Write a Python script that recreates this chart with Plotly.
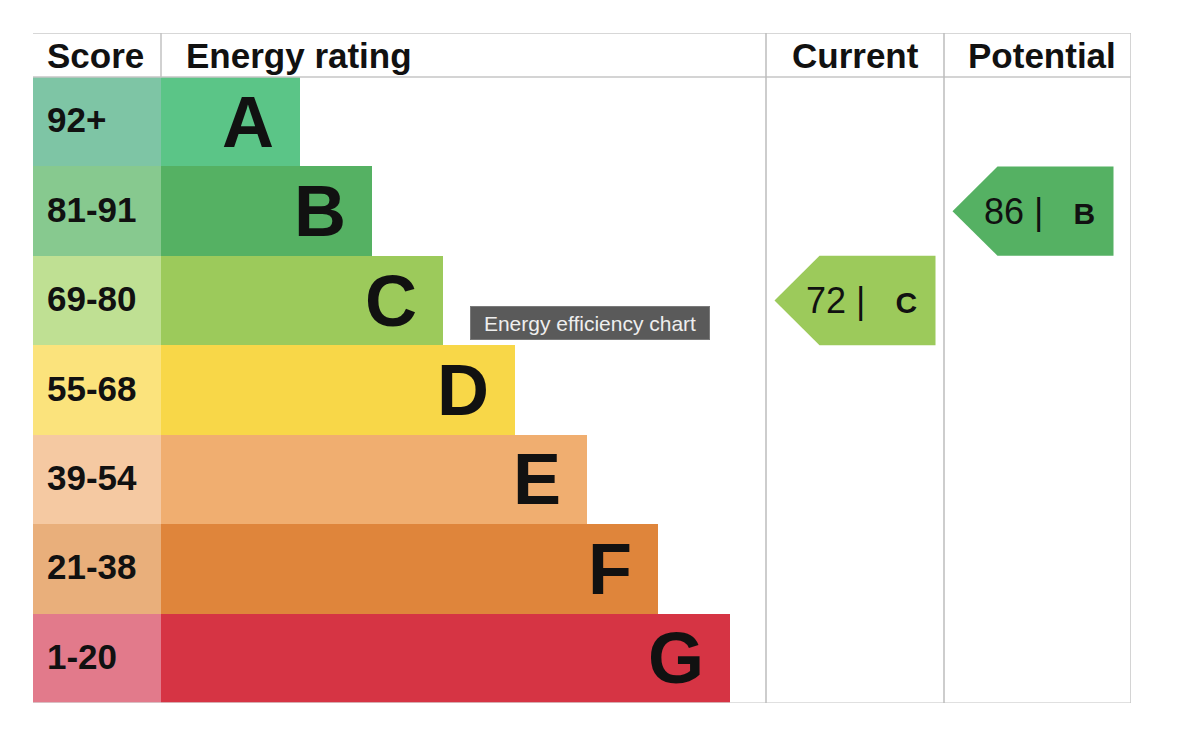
import plotly.graph_objects as go

# energy bands, top (best) to bottom (worst)
bands = ["A", "B", "C", "D", "E", "F", "G"]
score_ranges = ["92+", "81-91", "69-80", "55-68", "39-54", "21-38", "1-20"]
bar_lengths = [139, 211, 282, 354, 426, 497, 569]
bar_colors = ["#5bc587", "#55b163", "#9cca5b", "#f8d748", "#f0ae70", "#df853b", "#d63444"]
score_colors = ["#7ec5a5", "#87c98f", "#bfe093", "#fbe37c", "#f5c9a2", "#e9af7b", "#e27a8b"]

current_score = 72
current_band = "C"
potential_score = 86
potential_band = "B"

FONT = "Liberation Sans, Arial, Helvetica, sans-serif"

# column edges (x axis is in px from the left frame edge)
score_w = 128
cur_left, cur_right = 733, 911
pot_left, pot_right = 911, 1098
header_top = -0.992
rows = list(range(len(bands)))

fig = go.Figure()

# score column cells
fig.add_trace(go.Bar(
    y=rows, x=[score_w] * len(bands), base=0, orientation="h", width=1,
    marker=dict(color=score_colors, line=dict(width=0)), hoverinfo="skip",
))
# rating bars
fig.add_trace(go.Bar(
    y=rows, x=bar_lengths, base=score_w, orientation="h", width=1,
    marker=dict(color=bar_colors, line=dict(width=0)), hoverinfo="skip",
))


def arrow(score, band, left):
    i = bands.index(band)
    tip = left + 8.5
    body = tip + 45
    end = tip + 161
    fig.add_trace(go.Scatter(
        x=[tip, body, end, end, body, tip],
        y=[i, i - 0.5, i - 0.5, i + 0.5, i + 0.5, i],
        fill="toself", fillcolor=bar_colors[i], mode="lines",
        line=dict(width=0, color=bar_colors[i]), hoverinfo="skip",
    ))
    fig.add_annotation(
        x=end - 17, y=i, xanchor="right", yanchor="middle", showarrow=False,
        text=f"{score} |&nbsp;&nbsp;&nbsp;<b><span style='font-size:30px'>{band}</span></b>",
        font=dict(family=FONT, size=36, color="#111"),
    )


arrow(current_score, current_band, cur_left)
arrow(potential_score, potential_band, pot_left)

# row labels
for i, (b, s, L) in enumerate(zip(bands, score_ranges, bar_lengths)):
    fig.add_annotation(x=score_w + L - 24, y=i, xanchor="right", yanchor="middle",
                       text=b, showarrow=False,
                       font=dict(family=FONT, size=72, color="#111", weight="bold"))
    fig.add_annotation(x=12, y=i, xanchor="left", yanchor="middle", text=s, showarrow=False,
                       yshift=2, font=dict(family=FONT, size=35, color="#111", weight="bold"))

# headers
hy = (header_top - 0.5) / 2
hfont = dict(family=FONT, size=35, color="#111", weight="bold")
fig.add_annotation(x=12, y=hy, xanchor="left", text="Score", showarrow=False, font=hfont)
fig.add_annotation(x=score_w + 23, y=hy, xanchor="left", text="Energy rating", showarrow=False, font=hfont)
fig.add_annotation(x=(cur_left + cur_right) / 2, y=hy, text="Current", showarrow=False, font=hfont)
fig.add_annotation(x=(pot_left + pot_right) / 2 + 4, y=hy, text="Potential", showarrow=False, font=hfont)

# table lines
lines = [
    (0, header_top, pot_right, header_top, "#cacaca"),
    (0, -0.5, pot_right, -0.5, "#c6c6c6"),
    (0, 6.5, pot_right, 6.5, "#d6d6d6"),
    (score_w, header_top, score_w, -0.5, "#c2c2c2"),
    (cur_left, header_top, cur_left, 6.5, "#bdbdbd"),
    (pot_left, header_top, pot_left, 6.5, "#bdbdbd"),
    (pot_right, header_top, pot_right, 6.5, "#c6c6c6"),
]
for x0, y0, x1, y1, c in lines:
    fig.add_shape(type="line", x0=x0, y0=y0, x1=x1, y1=y1, layer="above",
                  line=dict(color=c, width=1.5))

# tooltip seen in the screenshot
fig.add_annotation(x=557, y=2.256, text="Energy efficiency chart", showarrow=False,
                   font=dict(family=FONT, size=21, color="#eeeeee"),
                   width=236, height=30, borderpad=1,
                   bgcolor="#5a5a5a", bordercolor="#7a7a7a", borderwidth=1)

fig.update_xaxes(range=[0, 1098], visible=False, fixedrange=True)
fig.update_yaxes(range=[6.5, header_top], visible=False, fixedrange=True)
fig.update_layout(
    width=1184, height=726, showlegend=False, barmode="overlay", bargap=0,
    margin=dict(l=25, r=61, t=25, b=31),
    plot_bgcolor="white", paper_bgcolor="white",
)

fig.write_html("out.html", config={"displayModeBar": False})
